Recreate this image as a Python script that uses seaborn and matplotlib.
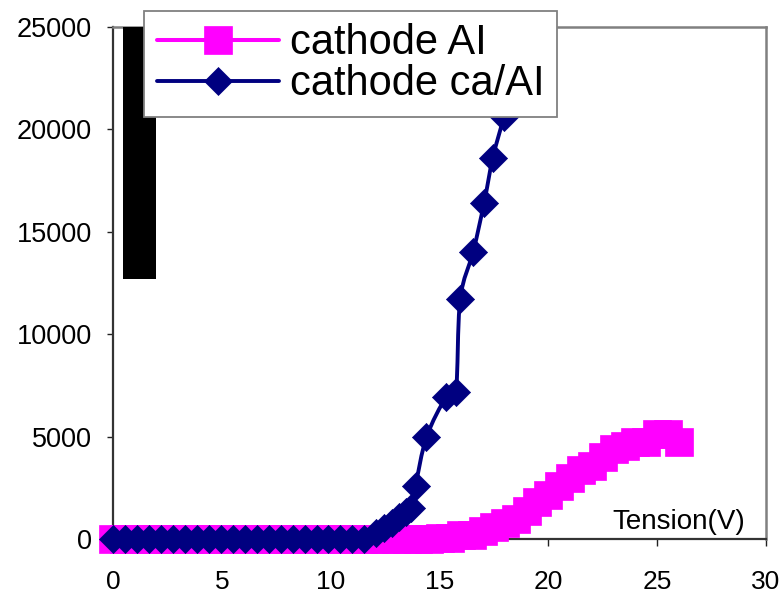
import numpy as np
import pandas as pd
import matplotlib
matplotlib.use("Agg")
import matplotlib.pyplot as plt
import seaborn as sns
from matplotlib.lines import Line2D
from matplotlib.path import Path
from matplotlib.patches import PathPatch

# Applied tension (V) and measured luminance for the Al cathode
al_tension = [0.0, 0.5, 1.0, 1.5, 2.0, 2.5, 3.0, 3.5, 4.0, 4.5,
              5.0, 5.5, 6.0, 6.5, 7.0, 7.5, 8.0, 8.5, 9.0, 9.5,
              10.0, 10.5, 11.0, 11.5, 12.0, 12.5, 13.0, 13.5, 14.0, 14.5,
              15.0, 15.5, 16.0, 16.5, 17.0, 17.5, 18.0, 18.5, 19.0, 19.5,
              20.0, 20.5, 21.0, 21.5, 22.0, 22.5, 23.0, 23.5, 24.0, 24.5,
              25.0, 25.5, 26.0]
al_values = [0, 0, 0, 0, 0, 0, 0, 0, 0, 0,
             0, 0, 0, 0, 0, 0, 0, 0, 0, 0,
             0, 0, 0, 0, 0, 0, 0, 0, 0, 10,
             30, 50, 210, 200, 400, 600, 800, 990, 1350, 1790,
             2160, 2600, 2970, 3360, 3570, 3980, 4380, 4550, 4760, 4760,
             5110, 5110, 4760]

# Applied tension (V) and measured luminance for the Ca/Al cathode
caal_tension = [0.0, 0.55, 1.1, 1.65, 2.2, 2.75, 3.3, 3.85, 4.4, 4.95,
                5.5, 6.05, 6.6, 7.15, 7.7, 8.25, 8.8, 9.35, 9.9, 10.45,
                11.0, 11.55, 12.1, 12.45, 12.8, 13.15, 13.45, 13.7, 13.9, 14.4,
                15.3, 15.75, 15.95, 16.55, 17.05, 17.45, 17.96]
caal_values = [0, 0, 0, 0, 0, 0, 0, 0, 0, 0,
               0, 0, 0, 0, 0, 0, 0, 0, 0, 0,
               0, 0, 300, 550, 800, 1050, 1300, 1500, 2600, 4970,
               6920, 7160, 11700, 14030, 16420, 18620, 20600]

# Solid block drawn near the origin
block_left = [0.46]
block_right = [1.98]
block_low = [12700]
block_high = [25000]

series_labels = ["cathode AI", "cathode ca/AI"]
x_ticks = [0, 5, 10, 15, 20, 25, 30]
y_ticks = [0, 5000, 10000, 15000, 20000, 25000]
x_label = "Tension(V)"

MAGENTA = "#FF00FF"
NAVY = "#000080"

sns.set_style("white")
plt.rcParams["font.family"] = ["Liberation Sans", "DejaVu Sans"]
plt.rcParams["text.color"] = "black"
plt.rcParams["xtick.labelcolor"] = "black"
plt.rcParams["ytick.labelcolor"] = "black"

fig = plt.figure(figsize=(7.84, 5.98), dpi=100)
ax = fig.add_axes([113 / 784, 1 - 539 / 598, 653 / 784, 512 / 598])

al_df = pd.DataFrame({"tension": al_tension, "lum": al_values})
caal_df = pd.DataFrame({"tension": caal_tension, "lum": caal_values})


def smooth_path(xs, ys):
    """Cubic Bezier path through the points (Catmull-Rom tangents)."""
    pts = np.column_stack([xs, ys]).astype(float)
    n = len(pts)
    verts = [pts[0]]
    codes = [Path.MOVETO]
    for i in range(n - 1):
        p0 = pts[i - 1] if i > 0 else pts[i]
        p1 = pts[i]
        p2 = pts[i + 1]
        p3 = pts[i + 2] if i + 2 < n else pts[i + 1]
        c1 = p1 + (p2 - p0) / 6.0
        c2 = p2 - (p3 - p1) / 6.0
        verts += [c1, c2, p2]
        codes += [Path.CURVE4] * 3
    return Path(verts, codes)


# black block
widths = [r - l for l, r in zip(block_left, block_right)]
centers = [(l + r) / 2 for l, r in zip(block_left, block_right)]
heights = [h - l for l, h in zip(block_low, block_high)]
ax.bar(centers, heights, bottom=block_low, width=widths, color="black",
       linewidth=0, zorder=3)

# Al cathode: line with square markers
sns.lineplot(data=al_df, x="tension", y="lum", ax=ax, color=MAGENTA,
             linewidth=2.9, marker="s", markersize=20,
             markeredgecolor=MAGENTA, markeredgewidth=0.5,
             sort=False, estimator=None, zorder=4)

# Ca/Al cathode: smoothed line plus diamond markers
caal_line = PathPatch(smooth_path(caal_df["tension"], caal_df["lum"]),
                      facecolor="none", edgecolor=NAVY, linewidth=2.8,
                      transform=ax.transData, zorder=4.5, clip_on=False)
ax.add_patch(caal_line)
sns.scatterplot(data=caal_df, x="tension", y="lum", ax=ax, marker="D",
                s=205, color=NAVY, edgecolor=NAVY, linewidth=0.5,
                zorder=5, clip_on=False, legend=False)

for line in ax.lines:
    line.set_clip_on(False)

ax.set_xlim(0, 30)
ax.set_ylim(0, 25000)
ax.set_xticks(x_ticks)
ax.set_xticklabels([str(v) for v in x_ticks])
ax.set_yticks(y_ticks)
ax.set_yticklabels([str(v) for v in y_ticks])
ax.set_xlabel("")
ax.set_ylabel("")

ax.tick_params(axis="y", direction="out", length=4.5, width=1.0,
               color="#222222", labelsize=19.5, pad=10.5, left=True,
               labelcolor="black")
ax.tick_params(axis="x", direction="out", length=5, width=1.0,
               color="#222222", labelsize=19, pad=17, bottom=True,
               labelcolor="black")

for side in ["top", "right"]:
    ax.spines[side].set_color("#808080")
    ax.spines[side].set_linewidth(1.8)
for side in ["left", "bottom"]:
    ax.spines[side].set_color("#333333")
    ax.spines[side].set_linewidth(1.6)

ax.text(0.968, 0.0195, x_label, transform=ax.transAxes, ha="right",
        va="baseline", fontsize=20, color="black", zorder=6)

handles = [
    Line2D([], [], color=MAGENTA, linewidth=2.9, marker="s", markersize=20,
           markeredgecolor=MAGENTA, markeredgewidth=0.5),
    Line2D([], [], color=NAVY, linewidth=2.8, marker="D", markersize=14.3,
           markeredgecolor=NAVY, markeredgewidth=0.5),
]
leg = ax.legend(handles, series_labels, loc="upper left",
                bbox_to_anchor=(144 / 784, 1 - 11 / 598),
                bbox_transform=fig.transFigure, borderaxespad=0,
                fontsize=30, frameon=True, fancybox=False, shadow=False,
                framealpha=1, borderpad=0.3, labelspacing=0.02,
                handlelength=2.93, handletextpad=0.27)
leg.get_frame().set_edgecolor("#808080")
leg.get_frame().set_linewidth(1.3)
leg.set_zorder(10)
for t in leg.get_texts():
    t.set_color("black")

fig.savefig("out.png", dpi=100)
